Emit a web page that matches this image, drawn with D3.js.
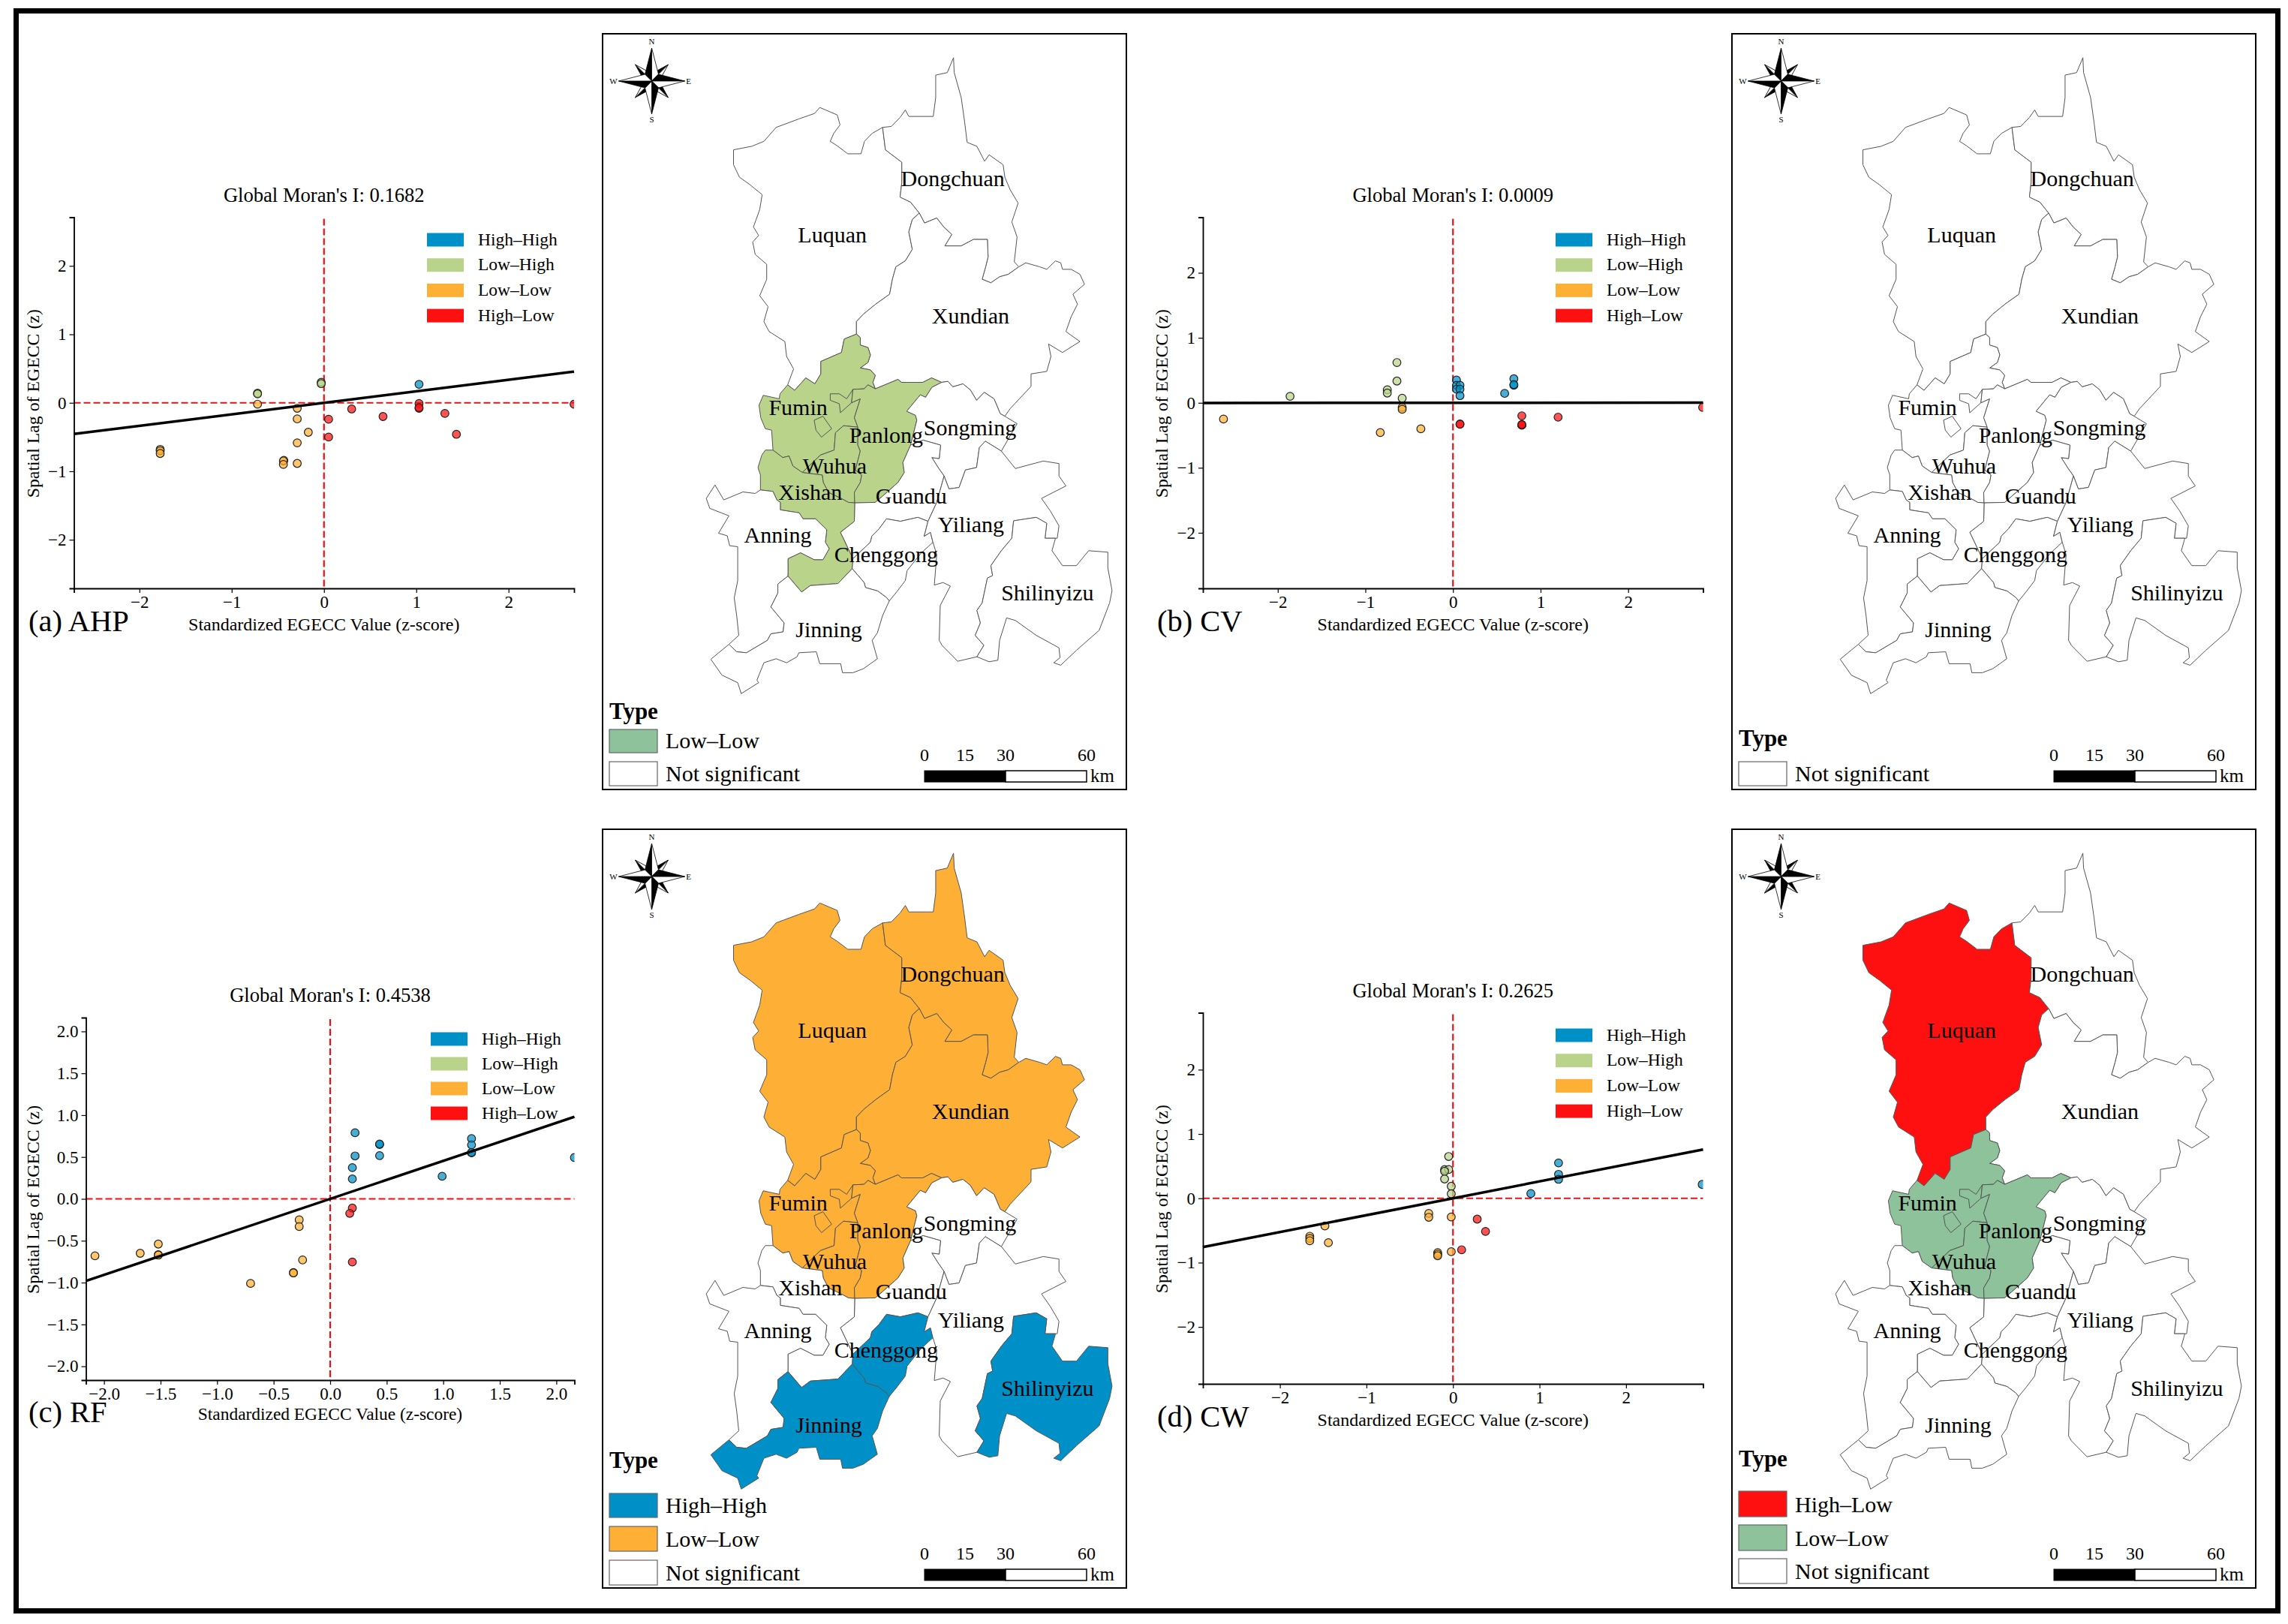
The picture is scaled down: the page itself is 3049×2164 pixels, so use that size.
<!DOCTYPE html>
<html>
<head>
<meta charset="utf-8">
<script src="https://cdn.jsdelivr.net/npm/d3@7"></script>
<style>
  html, body { margin: 0; padding: 0; background: #fff; }
  svg { display: block; }
  text { font-family: "Liberation Serif", serif; fill: #000; }
</style>
</head>
<body>
<svg id="fig" width="3049" height="2164"></svg>
<script>
/* ---------- scatter values ---------- */
const classNames = ["High–High", "Low–High", "Low–Low", "High–Low"];
const classColors = ["#0090c8", "#b9d48a", "#fdb035", "#ff1010"];

const moranTitles = ["0.1682", "0.0009", "0.4538", "0.2625"];
const moranSlopes = [0.1682, 0.0009, 0.4538, 0.2625];
const panelNames = ["(a) AHP", "(b) CV", "(c) RF", "(d) CW"];

const ticksWhole = [-2, -1, 0, 1, 2];
const ticksHalf = [-2, -1.5, -1, -0.5, 0, 0.5, 1, 1.5, 2];

const ahpHH = [[1.03, 0.27]];
const ahpLH = [[-0.72, 0.14], [-0.72, 0.13], [-0.03, 0.3], [-0.03, 0.28]];
const ahpLL = [[-0.72, -0.02], [-0.29, -0.08], [-0.29, -0.235], [-0.17, -0.43], [-0.29, -0.585], [-0.29, -0.885],
  [-0.435, -0.84], [-0.44, -0.85], [-0.44, -0.9], [-1.775, -0.68], [-1.775, -0.7], [-1.775, -0.74]];
const ahpHL = [[0.05, -0.24], [0.05, -0.5], [0.3, -0.09], [0.64, -0.2], [1.03, -0.01], [1.03, -0.08], [1.03, -0.07],
  [1.31, -0.155], [1.435, -0.46], [2.71, -0.02]];

const cvHH = [[0.04, 0.35], [0.04, 0.27], [0.08, 0.27], [0.04, 0.21], [0.08, 0.21], [0.08, 0.11], [0.59, 0.145],
  [0.695, 0.37], [0.695, 0.27], [0.695, 0.28]];
const cvLH = [[-1.86, 0.1], [-0.64, 0.62], [-0.64, 0.335], [-0.75, 0.2], [-0.75, 0.15], [-0.58, 0.07]];
const cvLL = [[-2.62, -0.25], [-0.58, -0.07], [-0.58, -0.1], [-0.83, -0.457], [-0.367, -0.4]];
const cvHL = [[0.08, -0.325], [0.08, -0.33], [0.786, -0.2], [0.786, -0.34], [0.786, -0.345], [0.786, -0.335],
  [1.2, -0.22], [2.85, -0.07]];

const rfHH = [[0.22, 0.79], [0.437, 0.65], [0.437, 0.655], [0.437, 0.516], [0.22, 0.513], [0.196, 0.373], [0.196, 0.238],
  [1.25, 0.72], [1.25, 0.645], [1.25, 0.55], [1.25, 0.555], [0.99, 0.27], [2.16, 0.494]];
const rfLH = [];
const rfLL = [[-0.274, -0.25], [-0.274, -0.33], [-1.52, -0.54], [-1.68, -0.65], [-1.52, -0.667], [-1.52, -0.672],
  [-2.08, -0.68], [-0.704, -1.01], [-0.244, -0.73], [-0.325, -0.88], [-0.325, -0.885]];
const rfHL = [[0.196, -0.11], [0.173, -0.173], [0.196, -0.754]];

const cwHH = [[1.22, 0.55], [1.22, 0.373], [1.22, 0.295], [0.9, 0.074], [2.88, 0.216]];
const cwLH = [[-0.05, 0.65], [-0.097, 0.447], [-0.05, 0.447], [-0.097, 0.42], [-0.097, 0.3], [-0.02, 0.187], [-0.02, 0.07]];
const cwLL = [[-0.28, -0.235], [-0.28, -0.295], [-0.02, -0.29], [-0.02, -0.83], [-0.177, -0.845], [-0.177, -0.87],
  [-0.177, -0.893], [-1.48, -0.43], [-1.44, -0.69], [-1.655, -0.59], [-1.655, -0.623], [-1.655, -0.66]];
const cwHL = [[0.28, -0.324], [0.376, -0.515], [0.1, -0.8]];

/* ---------- district outlines in map units, shared edges kept once ---------- */
const edgeLuquanWest = [[830,210],[800,222],[778,238],[768,263],[730,263],[700,247],[680,238],[690,222],[708,205],[700,185],[650,170],[635,182],[590,193],[525,210],[490,238],[455,248],[403,255],[403,285],[420,310],[450,325],[485,345],[478,375],[460,410],[475,427],[458,440],[465,465],[498,485],[498,515],[478,548],[502,570],[490,600],[505,620],[550,640],[555,670],[575,695],[558,727]];
const edgeLuquanFumin = [[558,727],[578,738],[610,713],[636,725],[653,705],[653,680],[712,662],[720,635],[755,625]];
const edgeLuquanXundian = [[755,625],[755,600],[775,585],[810,565],[850,545],[858,515],[868,490],[895,478],[915,455],[905,420],[915,395],[935,382]];
const edgeLuquanDong = [[935,382],[910,360],[880,350],[885,320],[885,280],[838,255],[830,210]];
const edgeDongOuter = [[830,210],[855,208],[880,190],[895,175],[905,188],[975,188],[982,150],[982,105],[1015,100],[1033,70],[1035,100],[1055,150],[1065,200],[1072,240],[1100,248],[1122,278],[1135,265],[1175,285],[1180,310],[1195,335],[1218,362],[1200,400],[1215,430],[1207,480],[1220,490]];
const edgeDongXundian = [[1220,490],[1190,505],[1165,510],[1140,522],[1115,515],[1125,490],[1132,470],[1130,435],[1090,435],[1055,448],[1008,448],[1028,425],[1005,410],[985,392],[950,402],[935,382]];
const edgeXundianEast = [[1220,490],[1240,482],[1280,490],[1300,495],[1325,478],[1340,482],[1345,495],[1370,495],[1395,505],[1408,525],[1375,545],[1388,565],[1370,590],[1355,620],[1395,640],[1345,662],[1305,645],[1312,670],[1300,700],[1255,705],[1255,730],[1195,775],[1180,790]];
const edgeXundianSongming = [[1180,790],[1167,785],[1149,755],[1121,742],[1099,758],[1081,737],[1060,725],[1031,731],[1017,720],[999,722]];
const edgeXundianPanlong = [[999,722],[970,713],[945,722],[884,722],[874,716],[809,735]];
const edgeXundianFumin = [[809,735],[802,722],[809,708],[795,697],[766,693],[788,682],[795,667],[788,652],[766,647],[766,632],[755,625]];
const edgeFuminPanlong = [[809,735],[788,727],[777,735],[745,736],[741,763],[766,755],[749,793],[759,812]];
const edgeFuminWuhua = [[759,812],[718,809],[695,823],[691,858],[652,868],[600,903]];
const edgeFuminXishan = [[600,903],[573,890],[562,870],[544,873],[516,858]];
const edgeFuminWest = [[516,858],[512,818],[494,815],[481,793],[476,768],[488,748],[534,755],[536,745],[558,727]];
const edgeWuhuaPanlong = [[759,812],[759,848],[766,860],[752,898],[770,908],[766,923],[749,943],[750,964]];
const edgeWuhuaXishan = [[750,964],[732,963],[714,956],[675,943],[660,923],[657,908],[600,903]];
const edgePanlongSongming = [[999,722],[971,732],[953,752],[938,747],[899,780],[924,788],[928,798],[910,848]];
const edgePanlongGuandu = [[910,848],[888,883],[892,903],[874,923],[842,943],[809,963],[750,964]];
const edgeGuanduSongming = [[910,848],[946,838],[996,848],[992,875],[971,873],[989,893],[1006,910]];
const edgeGuanduYiliang = [[1006,910],[985,963],[960,1001]];
const edgeGuanduChenggong = [[960,1001],[931,993],[881,1001],[841,996],[820,1016],[799,1031],[795,1043],[745,1076]];
const edgeGuanduXishan = [[745,1076],[709,1023],[749,1001],[750,964]];
const edgeXishanAnning = [[516,858],[494,858],[484,868],[473,893],[480,908],[480,938],[516,941],[527,958],[537,963],[537,978],[591,984],[602,996],[638,996],[670,1018],[666,1043],[677,1056],[659,1078],[634,1078],[595,1064],[559,1076],[559,1111]];
const edgeXishanJinning = [[559,1111],[598,1143],[623,1130],[702,1126],[743,1096]];
const edgeXishanChenggong = [[743,1096],[745,1076]];
const edgeChenggongYiliang = [[960,1001],[949,1031],[967,1023],[974,1043]];
const edgeChenggongEast = [[974,1043],[940,1065],[900,1100],[895,1120],[870,1143],[849,1161]];
const edgeChenggongJinning = [[849,1161],[841,1154],[816,1141],[781,1134],[777,1124],[743,1096]];
const edgeSongmingYiliang = [[1180,790],[1215,805],[1170,860],[1124,840],[1107,853],[1099,893],[1067,898],[1049,933],[1020,936],[1006,910]];
const edgeYiliangNorth = [[1170,860],[1210,895],[1290,880],[1335,885],[1335,910],[1355,930],[1285,955],[1310,980],[1335,1010],[1330,1035],[1295,1035]];
const edgeYiliangShilin = [[1295,1035],[1300,1005],[1270,993],[1205,1000],[1200,1035],[1170,1060],[1140,1090],[1145,1110],[1130,1115],[1115,1165],[1100,1180],[1110,1205],[1095,1230],[1120,1250],[1100,1273]];
const edgeYiliangWest = [[974,1043],[985,1068],[978,1129],[1003,1124],[1024,1131],[995,1170],[992,1240],[1000,1250],[1045,1282],[1100,1273]];
const edgeShilinOuter = [[1100,1273],[1135,1283],[1160,1280],[1165,1240],[1185,1195],[1210,1200],[1270,1230],[1335,1255],[1338,1275],[1320,1285],[1340,1290],[1385,1260],[1450,1220],[1480,1165],[1487,1140],[1475,1095],[1475,1063],[1420,1060],[1385,1090],[1345,1090],[1315,1060],[1325,1035],[1295,1035]];
const edgeJinningOuter = [[849,1161],[830,1190],[815,1225],[800,1240],[815,1277],[775,1297],[745,1305],[715,1305],[710,1287],[650,1287],[640,1263],[590,1265],[585,1273],[555,1285],[525,1277],[490,1285],[470,1320],[475,1325],[425,1347],[415,1325],[370,1310],[338,1278],[390,1248]];
const edgeJinningAnning = [[390,1248],[412,1263],[440,1265],[500,1240],[510,1227],[545,1223],[548,1205],[510,1173],[530,1145],[530,1127],[559,1111]];
const edgeAnningWest = [[480,938],[465,945],[430,942],[375,958],[350,928],[325,955],[335,975],[390,990],[360,1025],[385,1030],[392,1050],[415,1052],[415,1120],[405,1155],[412,1190],[418,1230],[390,1248]];

const rev = a => a.slice().reverse();
const districts = {
  Luquan: [edgeLuquanWest, edgeLuquanFumin, edgeLuquanXundian, edgeLuquanDong],
  Dongchuan: [edgeDongOuter, edgeDongXundian, edgeLuquanDong],
  Xundian: [edgeLuquanXundian, rev(edgeDongXundian), edgeXundianEast, edgeXundianSongming, edgeXundianPanlong, edgeXundianFumin],
  Fumin: [rev(edgeFuminWest), rev(edgeFuminXishan), rev(edgeFuminWuhua), rev(edgeFuminPanlong), edgeXundianFumin, rev(edgeLuquanFumin)],
  Wuhua: [edgeFuminWuhua, rev(edgeWuhuaXishan), rev(edgeWuhuaPanlong)],
  Panlong: [edgeFuminPanlong, edgeWuhuaPanlong, rev(edgePanlongGuandu), rev(edgePanlongSongming), edgeXundianPanlong],
  Songming: [rev(edgeXundianSongming), edgeSongmingYiliang, rev(edgeGuanduSongming), rev(edgePanlongSongming)],
  Guandu: [rev(edgePanlongGuandu), edgeGuanduSongming, edgeGuanduYiliang, edgeGuanduChenggong, edgeGuanduXishan],
  Xishan: [rev(edgeWuhuaXishan), rev(edgeGuanduXishan), rev(edgeXishanChenggong), rev(edgeXishanJinning), rev(edgeXishanAnning), rev(edgeFuminXishan)],
  Chenggong: [edgeChenggongYiliang, edgeChenggongEast, edgeChenggongJinning, edgeXishanChenggong, rev(edgeGuanduChenggong)],
  Anning: [edgeAnningWest, edgeJinningAnning, rev(edgeXishanAnning.slice(5))],
  Jinning: [edgeJinningOuter, edgeJinningAnning, edgeXishanJinning, rev(edgeChenggongJinning)],
  Yiliang: [edgeGuanduYiliang, edgeChenggongYiliang, edgeYiliangWest, rev(edgeYiliangShilin), rev(edgeYiliangNorth), edgeSongmingYiliang.slice(2)],
  Shilinyizu: [edgeYiliangShilin, edgeShilinOuter]
};
const innerLines = [
  [[634,798],[659,790],[684,815],[655,832],[639,818],[634,798]],
  [[745,736],[727,755],[706,745],[680,745],[680,758],[706,765],[709,783],[741,763]]
];
const districtLabels = [["Dongchuan",1031,328],["Luquan",686,441],["Xundian",1082,603],["Fumin",588,788],["Panlong",840,843],
  ["Songming",1080,828],["Wuhua",693,905],["Xishan",623,958],["Guandu",912,966],["Anning",530,1043],["Yiliang",1083,1023],
  ["Chenggong",840,1083],["Shilinyizu",1302,1160],["Jinning",676,1233]];

const scaleBarKm = [0, 15, 30, 60];

const greenAhp = "#b9d48a", greenCw = "#8dc29b", orange = "#fdb035", blue = "#0090c8", red = "#ff1010";

const svg = d3.select("#fig");

// outer frame of the whole figure
svg.append("rect").attr("x", 21.5).attr("y", 14.5).attr("width", 3014).attr("height", 2132)
  .attr("fill", "#fff").attr("stroke", "#000").attr("stroke-width", 7);

/* ---------- scatter panel ---------- */
function drawScatter(o) {
  const g = svg.append("g");
  const x = d3.scaleLinear().domain([-o.xMax, o.xMax]).range([o.left, o.right]);
  const y = d3.scaleLinear().domain([-o.yMax, o.yMax]).range([o.bottom, o.top]);
  const clipId = "clip-" + o.index;

  g.append("clipPath").attr("id", clipId).append("rect")
    .attr("x", o.left).attr("y", o.top).attr("width", o.right - o.left).attr("height", o.bottom - o.top);

  g.append("line").attr("x1", x(0)).attr("x2", x(0)).attr("y1", o.top + 2).attr("y2", o.bottom)
    .attr("stroke", "#f01010").attr("stroke-width", 2.2).attr("stroke-dasharray", "9,4");
  g.append("line").attr("x1", o.left).attr("x2", o.right).attr("y1", y(0)).attr("y2", y(0))
    .attr("stroke", "#f01010").attr("stroke-width", 2.2).attr("stroke-dasharray", "9,4");

  const fmt = o.half ? d3.format(".1f") : d3.format("d");
  const ticks = o.half ? ticksHalf : ticksWhole;

  const xAxis = g.append("g").attr("transform", `translate(0,${o.bottom})`)
    .call(d3.axisBottom(x).tickValues(ticks).tickFormat(fmt).tickSizeOuter(0).tickSize(6).tickPadding(4));
  const yAxis = g.append("g").attr("transform", `translate(${o.left},0)`)
    .call(d3.axisLeft(y).tickValues(ticks).tickFormat(fmt).tickSizeOuter(0).tickSize(6).tickPadding(4));
  [xAxis, yAxis].forEach(a => {
    a.selectAll("text").style("font-family", '"Liberation Serif", serif').style("font-size", "23px");
    a.select(".domain").attr("stroke-width", 1.8);
    a.selectAll(".tick line").attr("stroke-width", 1.2);
  });

  const pts = g.append("g").attr("clip-path", `url(#${clipId})`);
  o.series.forEach((s, i) => {
    pts.selectAll(null).data(s).enter().append("circle")
      .attr("cx", d => x(d[0])).attr("cy", d => y(d[1])).attr("r", 5.3)
      .attr("fill", classColors[i]).attr("fill-opacity", 0.72)
      .attr("stroke", "#222").attr("stroke-width", 1.2);
  });

  g.append("line")
    .attr("x1", x(-o.xMax)).attr("y1", y(-o.xMax * o.slope))
    .attr("x2", x(o.xMax)).attr("y2", y(o.xMax * o.slope))
    .attr("stroke", "#000").attr("stroke-width", 3.5);

  // legend
  classNames.forEach((name, i) => {
    g.append("rect").attr("x", o.legendX).attr("y", o.legendY + i * o.legendStep)
      .attr("width", 49).attr("height", 18).attr("fill", classColors[i]);
    g.append("text").attr("x", o.legendX + 68).attr("y", o.legendY + i * o.legendStep + 16)
      .style("font-size", "23.5px").text(name);
  });

  g.append("text").attr("x", x(0)).attr("y", o.titleY).attr("text-anchor", "middle")
    .style("font-size", "26.6px").text("Global Moran's I: " + moranTitles[o.index]);
  g.append("text").attr("x", x(0)).attr("y", o.xLabelY).attr("text-anchor", "middle")
    .style("font-size", o.half ? "23.4px" : "24px").text("Standardized EGECC Value (z-score)");
  g.append("text").attr("transform", `translate(${o.yLabelX},${y(0) + 1}) rotate(-90)`).attr("text-anchor", "middle")
    .style("font-size", "23.8px").text("Spatial Lag of EGECC (z)");
  g.append("text").attr("x", o.nameX).attr("y", o.nameY).style("font-size", "40.5px").text(panelNames[o.index]);
}

drawScatter({index: 0, left: 98.5, right: 765, top: 289.5, bottom: 784, xMax: 2.71, yMax: 2.71, slope: moranSlopes[0],
  series: [ahpHH, ahpLH, ahpLL, ahpHL], legendX: 569, legendY: 310.5, legendStep: 33.7,
  titleY: 268.5, xLabelY: 839.5, yLabelX: 52, nameX: 38, nameY: 841});
drawScatter({index: 1, left: 1603, right: 2269.5, top: 289.5, bottom: 784, xMax: 2.855, yMax: 2.855, slope: moranSlopes[1],
  series: [cvHH, cvLH, cvLL, cvHL], legendX: 2073, legendY: 310.5, legendStep: 33.7,
  titleY: 268.5, xLabelY: 839.5, yLabelX: 1556, nameX: 1542, nameY: 841});
drawScatter({index: 2, left: 114.5, right: 765.5, top: 1356, bottom: 1839, xMax: 2.16, yMax: 2.165, slope: moranSlopes[2], half: true,
  series: [rfHH, rfLH, rfLL, rfHL], legendX: 574, legendY: 1375.5, legendStep: 33,
  titleY: 1334.5, xLabelY: 1892, yLabelX: 52, nameX: 38, nameY: 1894.5});
drawScatter({index: 3, left: 1603, right: 2269.5, top: 1349.5, bottom: 1844, xMax: 2.89, yMax: 2.885, slope: moranSlopes[3],
  series: [cwHH, cwLH, cwLL, cwHL], legendX: 2073, legendY: 1370.5, legendStep: 33.7,
  titleY: 1328.5, xLabelY: 1899.5, yLabelX: 1556, nameX: 1542, nameY: 1901});

/* ---------- map panel ---------- */
function compass(g, cx, cy) {
  const ring = d3.range(8);
  ring.slice().sort((a, b) => (b % 2) - (a % 2)).forEach(i => {
    const big = i % 2 === 0;
    const r = big ? 44 : 31;
    const w = big ? 9 : 7;
    const gp = g.append("g").attr("transform", `translate(${cx},${cy}) rotate(${i * 45})`);
    gp.append("path").attr("d", `M0,${-r} L${-w},${-w} L0,0 Z`).attr("fill", "#000").attr("stroke", "#000").attr("stroke-width", 0.8);
    gp.append("path").attr("d", `M0,${-r} L${w},${-w} L0,0 Z`).attr("fill", "#fff").attr("stroke", "#000").attr("stroke-width", 0.8);
  });
  [["N", 0, -49], ["E", 49, 4], ["S", 0, 55], ["W", -51, 4]].forEach(t => {
    g.append("text").attr("x", cx + t[1]).attr("y", cy + t[2]).attr("text-anchor", "middle")
      .style("font-size", "11px").text(t[0]);
  });
}

function drawMap(o) {
  const g = svg.append("g");
  const mx = d3.scaleLinear().domain([28, 1528]).range([o.left, o.left + 698]);
  const my = d3.scaleLinear().domain([22, 1538]).range([o.top, o.top + 1006]);
  const line = d3.line().x(d => mx(d[0])).y(d => my(d[1]));

  g.append("rect").attr("x", o.left).attr("y", o.top).attr("width", 698).attr("height", o.bottom - o.top)
    .attr("fill", "#fff").attr("stroke", "#000").attr("stroke-width", 2);

  Object.keys(districts).forEach(name => {
    const ring = districts[name].reduce((acc, e) => acc.concat(e), []);
    g.append("path").attr("d", line(ring) + "Z")
      .attr("fill", o.fills[name] || "#fff").attr("stroke", "#555").attr("stroke-width", 1)
      .attr("stroke-linejoin", "round");
  });
  innerLines.forEach(l => {
    g.append("path").attr("d", line(l)).attr("fill", "none").attr("stroke", "#555").attr("stroke-width", 1);
  });
  districtLabels.forEach(d => {
    g.append("text").attr("x", mx(d[1])).attr("y", my(d[2])).attr("text-anchor", "middle")
      .style("font-size", "30px").text(d[0]);
  });

  compass(g, o.left + 65.5, o.top + 63);

  // legend
  g.append("text").attr("x", o.left + 9).attr("y", o.typeY).style("font-size", "31px").style("font-weight", "bold").text("Type");
  o.legend.forEach(d => {
    g.append("rect").attr("x", o.left + 9).attr("y", d.y).attr("width", 64).attr("height", d.h)
      .attr("fill", d.color).attr("stroke", "#666").attr("stroke-width", 1.2);
    g.append("text").attr("x", o.left + 84).attr("y", d.y + d.h - 6).style("font-size", "30px").text(d.name);
  });

  // scale bar
  const km = d3.scaleLinear().domain([0, 60]).range([o.left + 429, o.left + 645]);
  const barY = o.bottom - 25;
  g.append("rect").attr("x", km(0)).attr("y", barY).attr("width", km(30) - km(0)).attr("height", 15).attr("fill", "#000").attr("stroke", "#000");
  g.append("rect").attr("x", km(30)).attr("y", barY).attr("width", km(60) - km(30)).attr("height", 15).attr("fill", "#fff").attr("stroke", "#000").attr("stroke-width", 1.5);
  scaleBarKm.forEach(v => {
    g.append("text").attr("x", km(v)).attr("y", barY - 13).attr("text-anchor", "middle").style("font-size", "24px").text(v);
  });
  g.append("text").attr("x", km(60) + 5).attr("y", barY + 15).style("font-size", "25px").text("km");
}

const notSig = "Not significant";
drawMap({left: 803, top: 45, bottom: 1052, typeY: 958,
  fills: {Fumin: greenAhp, Wuhua: greenAhp, Panlong: greenAhp, Xishan: greenAhp},
  legend: [{name: "Low–Low", color: greenCw, y: 972, h: 31}, {name: notSig, color: "#fff", y: 1015, h: 32}]});
drawMap({left: 2308, top: 45, bottom: 1052, typeY: 994,
  fills: {},
  legend: [{name: notSig, color: "#fff", y: 1015, h: 32}]});
drawMap({left: 803, top: 1105, bottom: 2116, typeY: 1956,
  fills: {Luquan: orange, Dongchuan: orange, Xundian: orange, Fumin: orange, Wuhua: orange, Panlong: orange,
    Chenggong: blue, Jinning: blue, Shilinyizu: blue},
  legend: [{name: "High–High", color: blue, y: 1990, h: 32}, {name: "Low–Low", color: orange, y: 2034, h: 33}, {name: notSig, color: "#fff", y: 2079, h: 33}]});
drawMap({left: 2308, top: 1105, bottom: 2116, typeY: 1954,
  fills: {Luquan: red, Fumin: greenCw, Wuhua: greenCw, Panlong: greenCw},
  legend: [{name: "High–Low", color: red, y: 1987, h: 34}, {name: "Low–Low", color: greenCw, y: 2032, h: 34}, {name: notSig, color: "#fff", y: 2077, h: 33}]});
</script>
</body>
</html>
